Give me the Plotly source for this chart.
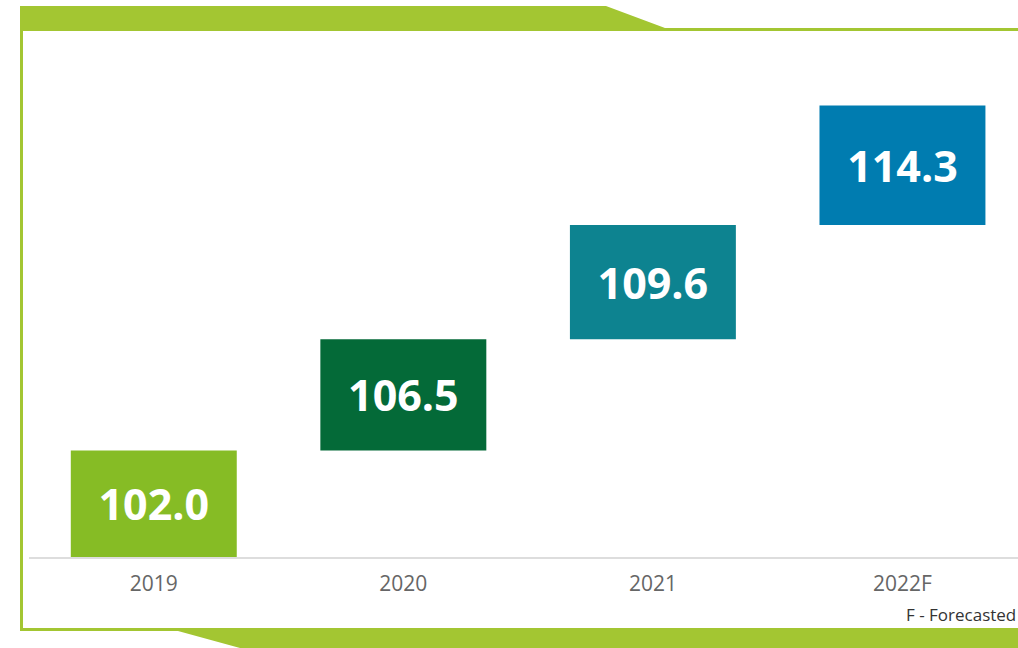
import numpy as np
import plotly.graph_objects as go

categories = ["2019", "2020", "2021", "2022F"]
values = [102.0, 106.5, 109.6, 114.3]
labels = ["102.0", "106.5", "109.6", "114.3"]
colors = ["#86BC25", "#046A38", "#0D8390", "#007CB0"]
footnote = "F - Forecasted"

bases = np.concatenate([[0.0], np.cumsum(values)[:-1]])

W, H = 1018, 648
FRAME = "#A3C632"


def px(x, y):
    return x / W, 1 - y / H


def path(points):
    parts = []
    for i, (x, y) in enumerate(points):
        a, b = px(x, y)
        parts.append(("M" if i == 0 else "L") + f"{a:.5f},{b:.5f}")
    return " ".join(parts) + " Z"


fig = go.Figure()
fig.add_trace(go.Bar(
    x=categories,
    y=values,
    base=bases,
    width=0.665,
    marker=dict(color=colors, line=dict(width=0)),
    text=labels,
    textposition="inside",
    insidetextanchor="middle",
    textangle=0,
    textfont=dict(family="Open Sans", size=43, color="white", weight="bold"),
    hoverinfo="skip",
))

shapes = [
    dict(type="path", xref="paper", yref="paper", line=dict(width=0), fillcolor=FRAME,
         path=path([(20, 6), (606, 6), (665, 28), (1018, 28), (1018, 31), (20, 31)])),
    dict(type="path", xref="paper", yref="paper", line=dict(width=0), fillcolor=FRAME,
         path=path([(20, 31), (23, 31), (23, 631), (20, 631)])),
    dict(type="path", xref="paper", yref="paper", line=dict(width=0), fillcolor=FRAME,
         path=path([(20, 628), (1018, 628), (1018, 648), (240, 648), (178, 631), (20, 631)])),
]

fx, fy = px(904, 614)
fig.update_layout(
    width=W, height=H,
    margin=dict(l=0, r=0, t=0, b=0),
    paper_bgcolor="white", plot_bgcolor="white",
    showlegend=False,
    shapes=shapes,
    xaxis=dict(
        domain=[29 / W, 1], range=[-0.5, 3.463], type="category",
        showgrid=False, zeroline=False, showline=True, linecolor="#DDDDDD", linewidth=2,
        ticks="", ticklabelstandoff=7,
        tickfont=dict(family="Open Sans", size=21, color="#666666"),
        fixedrange=True,
    ),
    yaxis=dict(
        domain=[1 - 557 / H, 1 - 40 / H], range=[0, 495.2],
        visible=False, showgrid=False, zeroline=False, fixedrange=True,
    ),
    annotations=[dict(
        x=fx, y=fy, xref="paper", yref="paper", xanchor="left", yanchor="middle",
        text=footnote, showarrow=False,
        font=dict(family="Open Sans", size=17, color="#333333"),
    )],
)

fig.write_html(
    "out.html",
    config={"displayModeBar": False},
    post_script="document.body.style.margin='0';document.body.style.overflow='hidden';",
)
